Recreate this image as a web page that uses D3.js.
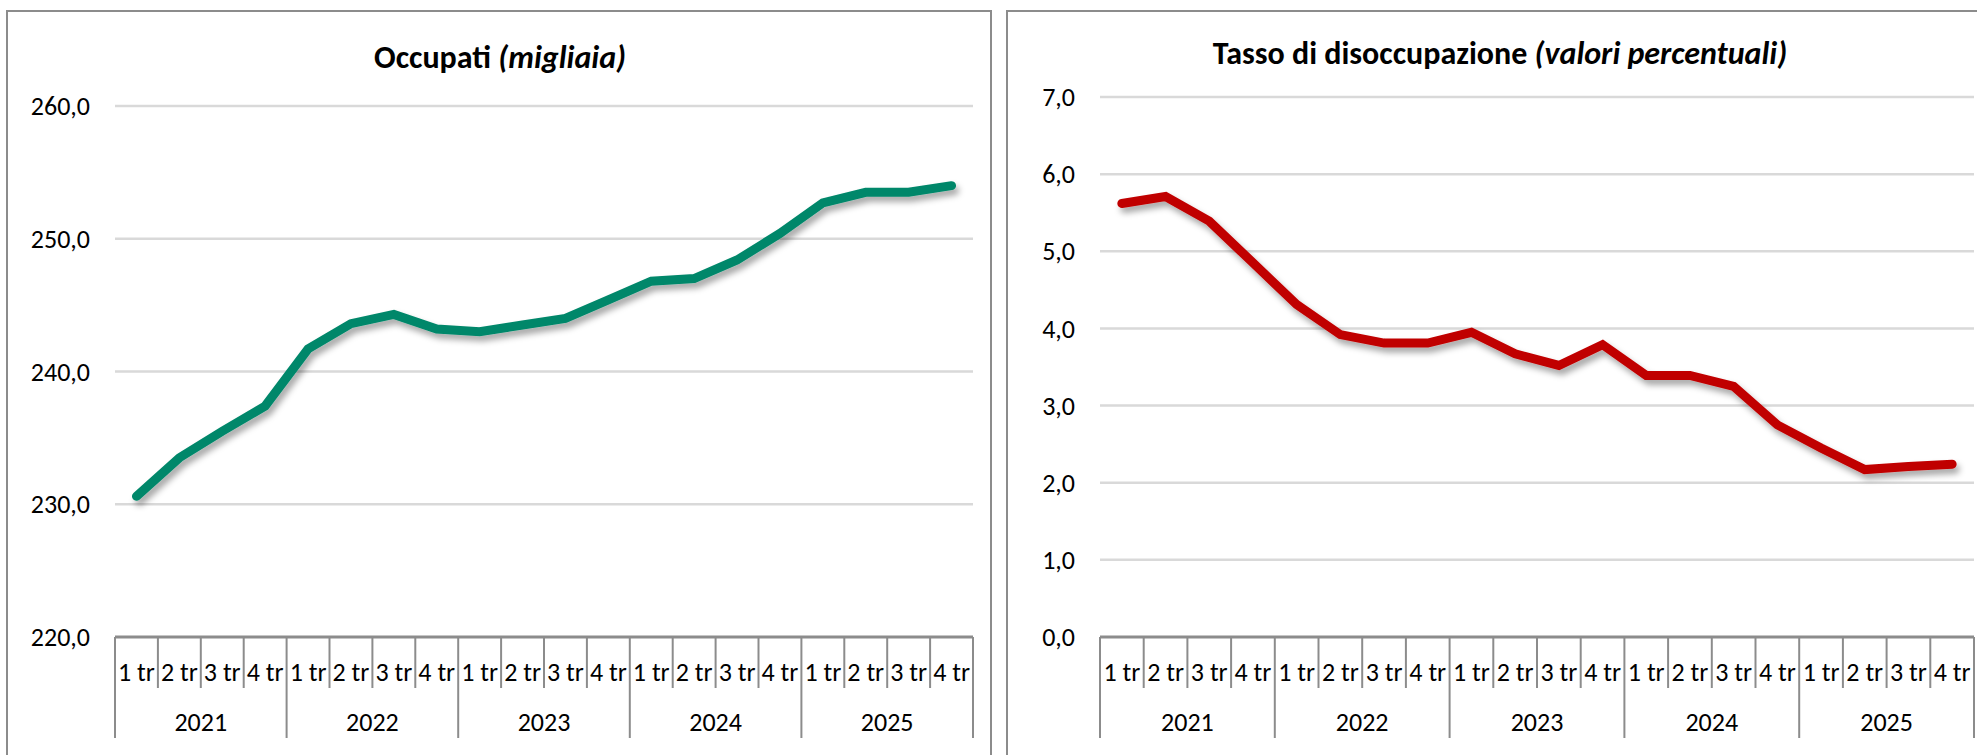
<!DOCTYPE html>
<html>
<head>
<meta charset="utf-8">
<script src="https://cdn.jsdelivr.net/npm/d3@7"></script>
<style>
  html, body { margin: 0; padding: 0; background: #fff; }
  svg { display: block; font-family: Carlito, "Liberation Sans", Arial, sans-serif; }
</style>
</head>
<body>
<svg id="chart" width="1977" height="755"></svg>
<script>
// Quarterly labour-market indicators, 2021–2025
const years = ["2021", "2022", "2023", "2024", "2025"];
const quarters = ["1 tr", "2 tr", "3 tr", "4 tr"];

// Occupati (migliaia)
const occupati = [230.6, 233.5, 235.5, 237.4, 241.7, 243.6, 244.3, 243.2, 243.0, 243.5,
                  244.0, 245.4, 246.8, 247.0, 248.4, 250.4, 252.7, 253.5, 253.5, 254.0];
const occupatiTicks = [220, 230, 240, 250, 260];

// Tasso di disoccupazione (valori percentuali)
const disoccupazione = [5.62, 5.71, 5.39, 4.85, 4.31, 3.92, 3.81, 3.81, 3.95, 3.67,
                        3.52, 3.79, 3.39, 3.39, 3.25, 2.75, 2.45, 2.17, 2.21, 2.24];
const disoccupazioneTicks = [0, 1, 2, 3, 4, 5, 6, 7];

const svg = d3.select("#chart");
const itLocale = d3.formatLocale({ decimal: ",", thousands: ".", grouping: [3], currency: ["€", ""] });
const fmt = itLocale.format(".1f");

const TICK_FONT = 26;
const TITLE_FONT = 32;

// soft drop shadow under the series line
const defs = svg.append("defs");
const shadow = defs.append("filter").attr("id", "lineShadow")
  .attr("x", "-10%").attr("y", "-10%").attr("width", "120%").attr("height", "130%");
shadow.append("feDropShadow")
  .attr("dx", 3).attr("dy", 5).attr("stdDeviation", 3)
  .attr("flood-color", "#000").attr("flood-opacity", 0.35);

// category list: one entry per quarter
const cats = [];
years.forEach(y => quarters.forEach(q => cats.push({ year: y, q })));

function drawPanel(opt) {
  const g = svg.append("g");

  // chart frame
  g.append("rect")
    .attr("x", opt.frame[0]).attr("y", opt.frame[1])
    .attr("width", opt.frame[2]).attr("height", opt.frame[3])
    .attr("fill", "#fff").attr("stroke", "#8c8c8c").attr("stroke-width", 2);

  const x = d3.scaleBand().domain(d3.range(cats.length)).range([opt.x0, opt.x1]).paddingInner(0).paddingOuter(0);
  const y = d3.scaleLinear().domain(opt.domain).range([opt.yBottom, opt.yTop]);

  // title
  const title = g.append("text")
    .attr("x", opt.titleX).attr("y", opt.titleY)
    .attr("text-anchor", "middle")
    .attr("font-size", TITLE_FONT).attr("font-weight", "bold").attr("fill", "#000");
  title.append("tspan").text(opt.title + " ");
  title.append("tspan").attr("font-style", "italic").text(opt.subtitle);

  // horizontal gridlines
  g.append("g").selectAll("line")
    .data(opt.ticks.filter(t => t !== opt.domain[0]))
    .join("line")
    .attr("x1", opt.x0).attr("x2", opt.x1)
    .attr("y1", d => y(d)).attr("y2", d => y(d))
    .attr("stroke", "#d9d9d9").attr("stroke-width", 2.5);

  // y tick labels
  g.append("g").selectAll("text")
    .data(opt.ticks)
    .join("text")
    .attr("x", opt.labelRight)
    .attr("y", d => y(d))
    .attr("dy", "0.35em")
    .attr("text-anchor", "end")
    .attr("font-size", TICK_FONT).attr("fill", "#000")
    .text(d => fmt(d));

  // category axis: baseline, quarter separators, year separators
  const axisY = y(opt.domain[0]);
  const ax = g.append("g");
  ax.append("line")
    .attr("x1", opt.x0).attr("x2", opt.x1)
    .attr("y1", axisY).attr("y2", axisY)
    .attr("stroke", "#8c8c8c").attr("stroke-width", 3);

  const bounds = d3.range(cats.length + 1);
  ax.selectAll("line.sep")
    .data(bounds)
    .join("line")
    .attr("class", "sep")
    .attr("x1", i => i < cats.length ? x(i) : x(cats.length - 1) + x.bandwidth())
    .attr("x2", i => i < cats.length ? x(i) : x(cats.length - 1) + x.bandwidth())
    .attr("y1", axisY)
    .attr("y2", i => i % quarters.length === 0 ? axisY + 101 : axisY + 51)
    .attr("stroke", "#8c8c8c").attr("stroke-width", 2);

  ax.selectAll("text.q")
    .data(cats)
    .join("text")
    .attr("class", "q")
    .attr("x", (d, i) => x(i) + x.bandwidth() / 2)
    .attr("y", axisY + 35)
    .attr("dy", "0.35em")
    .attr("text-anchor", "middle")
    .attr("font-size", TICK_FONT).attr("fill", "#000")
    .text(d => d.q);

  ax.selectAll("text.yr")
    .data(years)
    .join("text")
    .attr("class", "yr")
    .attr("x", (d, k) => x(k * quarters.length) + x.bandwidth() * quarters.length / 2)
    .attr("y", axisY + 85)
    .attr("dy", "0.35em")
    .attr("text-anchor", "middle")
    .attr("font-size", TICK_FONT).attr("fill", "#000")
    .text(d => d);

  // series line
  const line = d3.line()
    .x((d, i) => x(i) + x.bandwidth() / 2)
    .y(d => y(d));
  g.append("path")
    .datum(opt.values)
    .attr("d", line)
    .attr("fill", "none")
    .attr("stroke", opt.color)
    .attr("stroke-width", 9)
    .attr("stroke-linejoin", "miter")
    .attr("stroke-linecap", "round")
    .attr("filter", "url(#lineShadow)");
}

drawPanel({
  frame: [7, 11, 984, 760],
  title: "Occupati", subtitle: "(migliaia)",
  titleX: 500, titleY: 68,
  x0: 115, x1: 973,
  yTop: 106, yBottom: 637,
  domain: [220, 260],
  ticks: occupatiTicks,
  labelRight: 90,
  values: occupati,
  color: "#00876a"
});

drawPanel({
  frame: [1007, 11, 990, 760],
  title: "Tasso di disoccupazione", subtitle: "(valori percentuali)",
  titleX: 1500, titleY: 64,
  x0: 1100, x1: 1974,
  yTop: 97, yBottom: 637,
  domain: [0, 7],
  ticks: disoccupazioneTicks,
  labelRight: 1075,
  values: disoccupazione,
  color: "#c00000"
});
</script>
</body>
</html>
